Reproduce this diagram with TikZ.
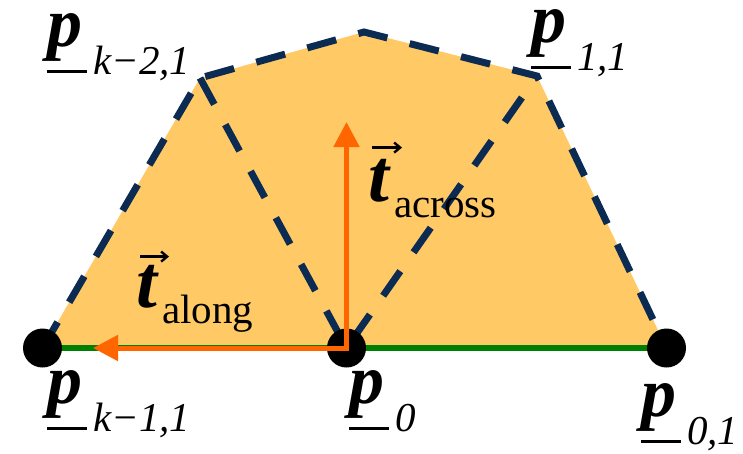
\documentclass[tikz,border=0pt]{standalone}
\usepackage{fontspec}
\setmainfont{Liberation Serif}
\usetikzlibrary{arrows.meta}
\definecolor{fillor}{HTML}{FFC966}
\definecolor{navy}{HTML}{0C2B52}
\definecolor{grn}{HTML}{008000}
\definecolor{org}{HTML}{FF6600}
\newcommand\plab[1]{\makebox[46pt][l]{\rlap{\rule[-26.5pt]{40pt}{3pt}}\textbf{\textit{p}}}\raisebox{-28pt}{\fontsize{41}{41}\selectfont\itshape #1}}
\begin{document}
\begin{tikzpicture}[x=1pt,y=-1pt,
  dashedge/.style={draw=navy,line width=7pt,dash pattern=on 30pt off 23pt},
  baseedge/.style={draw=grn,line width=6.5pt},
  dotnode/.style={circle,fill=black,minimum size=39pt,inner sep=0pt},
  tarrow/.style={draw=org,line width=5pt,{Triangle[length=25pt,width=25pt]}-{Triangle[length=25pt,width=25pt]}},
  vecarr/.style={draw=black,line width=2.4pt,-{Straight Barb[length=6pt,width=10pt]}},
  plabel/.style={anchor=base west,inner sep=0pt,font=\fontsize{70}{70}\selectfont},
  tmain/.style={anchor=base west,inner sep=0pt,font=\fontsize{75}{75}\selectfont\bfseries\itshape},
  tsub/.style={anchor=base west,inner sep=0pt,font=\fontsize{41}{41}\selectfont}
]
\useasboundingbox (0,0) rectangle (743,453);
\coordinate (A) at (42.5,348);
\coordinate (B) at (200,78);
\coordinate (T) at (364,32);
\coordinate (C) at (537,76);
\coordinate (D) at (666.5,348);
\coordinate (O) at (346.5,348);
\coordinate (up) at (346.5,122);
\coordinate (lft) at (93,348);
\fill[fillor] (A) -- (B) -- (T) -- (C) -- (D) -- cycle;
\draw[dashedge] (A) -- (B) -- (T) -- (C) -- (D);
\draw[dashedge] (B) -- (O) -- (C);
\draw[baseedge] (A) -- (D);
\node[dotnode] (dA) at (A) {};
\node[dotnode] (dO) at (O) {};
\node[dotnode] (dD) at (D) {};
\draw[tarrow] (up) -- (O) -- (lft);
% labels
\node[plabel] (lB) at (47,46) {\plab{k−2,1}};
\node[plabel] (lC) at (531,42) {\plab{1,1}};
\node[plabel] (lA) at (47,403) {\plab{k−1,1}};
\node[plabel] (lO) at (349,403) {\plab{0}};
\node[plabel] (lD) at (641,416) {\plab{0,1}};
\node[tmain] (tal) at (136,307) {t};
\node[tsub] (sal) at (162,323) {along};
\draw[vecarr] ([xshift=4pt,yshift=8pt]tal.north west) -- ++(29pt,0);
\node[tmain] (tac) at (368,201) {t};
\node[tsub] (sac) at (394,217) {across};
\draw[vecarr] ([xshift=4pt,yshift=11pt]tac.north west) -- ++(30pt,0);
\end{tikzpicture}
\end{document}
